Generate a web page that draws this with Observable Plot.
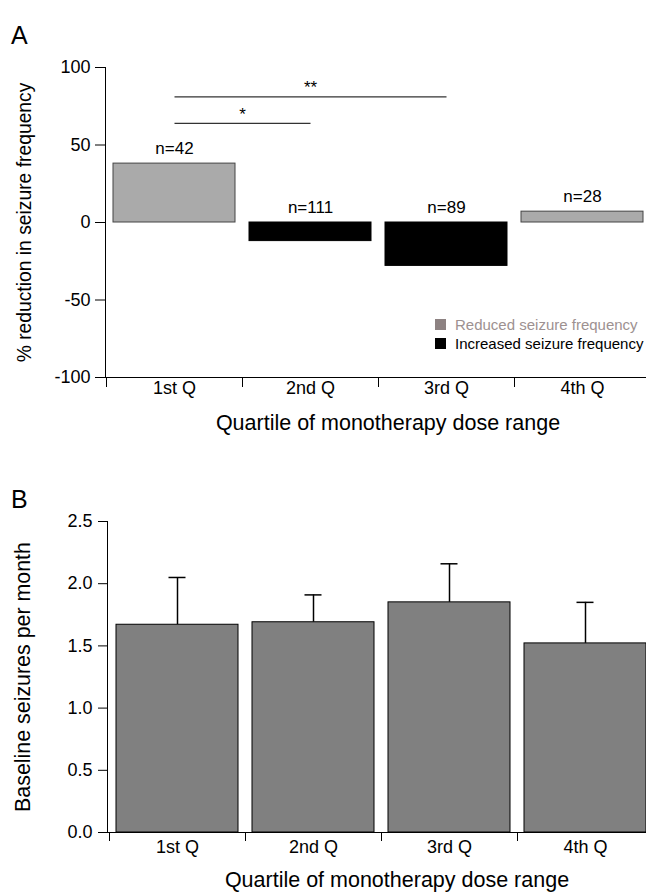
<!DOCTYPE html>
<html>
<head>
<meta charset="utf-8">
<script src="https://cdn.jsdelivr.net/npm/d3@7"></script>
<script src="https://cdn.jsdelivr.net/npm/@observablehq/plot@0.6"></script>
<style>
  html, body { margin: 0; padding: 0; background: #fff; }
  #wrap { position: relative; width: 646px; height: 892px; font-family: 'Liberation Sans', Arial, Helvetica, sans-serif; color: #000; }
  .panel { position: absolute; font-size: 25px; line-height: 25px; }
  #legend { position: absolute; left: 435px; top: 315px; font-size: 15px; line-height: 19px; }
  #legend .row { display: flex; align-items: center; white-space: nowrap; }
  #legend .sw { width: 11px; height: 11px; margin-right: 9px; }
  svg { display: block; }
</style>
</head>
<body>
<div id="wrap">
  <div id="plotA"></div>
  <div id="plotB"></div>
  <div class="panel" style="left:11px; top:23px;">A</div>
  <div class="panel" style="left:11px; top:487px;">B</div>
  <div id="legend"></div>
</div>
<script>
// ---------- data ----------
const categories = ["1st Q", "2nd Q", "3rd Q", "4th Q"];
const reductionPct = [38, -12, -28, 7];
const sampleSizes = [42, 111, 89, 28];
const sigFrom = ["1st Q", "1st Q"];
const sigTo = ["2nd Q", "3rd Q"];
const sigLevel = [64, 81];
const sigLabel = ["*", "**"];
const baselineMean = [1.67, 1.69, 1.85, 1.52];
const baselineErr = [0.38, 0.22, 0.31, 0.33];
const yTicksA = [-100, -50, 0, 50, 100];
const yTicksB = [0, 0.5, 1.0, 1.5, 2.0, 2.5];
const legendLabels = ["Reduced seizure frequency", "Increased seizure frequency"];
const xTitle = "Quartile of monotherapy dose range";
const yTitleA = "% reduction in seizure frequency";
const yTitleB = "Baseline seizures per month";

// ---------- derived tables ----------
const idx = c => categories.indexOf(c);
const edges = categories.map((_, i) => i);
const centers = categories.map((_, i) => i + 0.5);
const tableA = categories.map((c, i) => ({i, c, v: reductionPct[i], n: sampleSizes[i]}));
const sig = sigFrom.map((f, k) => ({x1: idx(f) + 0.5, x2: idx(sigTo[k]) + 0.5, y: sigLevel[k], label: sigLabel[k]}));
const tableB = categories.map((c, i) => ({i, c, m: baselineMean[i], e: baselineErr[i]}));

const colReduced = "#aaaaaa";
const colIncreased = "#000000";
const font = "'Liberation Sans', Arial, Helvetica, sans-serif";
const catLabel = v => categories[Math.floor(v)];
const capHalf = 0.0625;

// ---------- Panel A ----------
const plotA = Plot.plot({
  width: 646,
  height: 450,
  marginLeft: 105,
  marginRight: 0,
  marginTop: 67,
  marginBottom: 73,
  style: {fontFamily: font, fontSize: "18px", background: "white", color: "#000", overflow: "visible"},
  x: {domain: [0, 4], range: [106, 650]},
  y: {domain: [-100, 100]},
  marks: [
    Plot.rect(tableA, {x1: d => d.i, x2: d => d.i + 1, y1: 0, y2: d => d.v, insetLeft: 7, insetRight: 7,
      fill: d => d.v >= 0 ? colReduced : colIncreased, stroke: d => d.v >= 0 ? "#444" : "#000", strokeWidth: 1}),
    Plot.text(tableA, {x: d => d.i + 0.5, y: d => Math.max(d.v, 0), text: d => "n=" + d.n, dy: -15, fontSize: 17, lineAnchor: "middle"}),
    Plot.link(sig, {x1: "x1", x2: "x2", y1: "y", y2: "y", stroke: "#333", strokeWidth: 1.3}),
    Plot.text(sig, {x: d => (d.x1 + d.x2) / 2, y: "y", text: "label", dy: -9, fontSize: 17, lineAnchor: "middle"}),
    Plot.frame({anchor: "left", stroke: "#000"}),
    Plot.frame({anchor: "bottom", stroke: "#000"}),
    Plot.axisY({ticks: yTicksA, tickSize: 10, tickPadding: 5, tickFormat: d => String(d), fontSize: 18, label: null}),
    Plot.axisX({ticks: edges, tickSize: 10, fill: "none", label: null}),
    Plot.axisX({ticks: centers, tickSize: 0, tickPadding: 4, tickFormat: catLabel, fontSize: 18, label: null}),
    Plot.text([xTitle], {frameAnchor: "bottom", text: d => d, textAnchor: "middle", dy: 46, dx: 12, fontSize: 21.5, lineAnchor: "middle"}),
    Plot.text([yTitleA], {frameAnchor: "left", text: d => d, textAnchor: "middle", rotate: -90, dx: -81, fontSize: 19.3, lineAnchor: "middle"})
  ]
});
document.getElementById("plotA").append(plotA);

// ---------- Panel B ----------
const plotB = Plot.plot({
  width: 646,
  height: 442,
  marginLeft: 107,
  marginRight: 0,
  marginTop: 71,
  marginBottom: 60,
  style: {fontFamily: font, fontSize: "18px", background: "white", color: "#000", overflow: "visible"},
  x: {domain: [0, 4], range: [109, 653]},
  y: {domain: [0, 2.5]},
  marks: [
    Plot.ruleX(tableB, {x: d => d.i + 0.5, y1: "m", y2: d => d.m + d.e, stroke: "#000", strokeWidth: 1.5}),
    Plot.ruleY(tableB, {y: d => d.m + d.e, x1: d => d.i + 0.5 - capHalf, x2: d => d.i + 0.5 + capHalf, stroke: "#000", strokeWidth: 1.5}),
    Plot.rect(tableB, {x1: d => d.i, x2: d => d.i + 1, y1: 0, y2: "m", insetLeft: 7, insetRight: 7, fill: "#808080", stroke: "#000", strokeWidth: 1}),
    Plot.frame({anchor: "left", stroke: "#000"}),
    Plot.frame({anchor: "bottom", stroke: "#000"}),
    Plot.axisY({ticks: yTicksB, tickSize: 9, tickPadding: 6, tickFormat: d3.format(".1f"), fontSize: 18, label: null}),
    Plot.axisX({ticks: edges, tickSize: 9, fill: "none", label: null}),
    Plot.axisX({ticks: centers, tickSize: 0, tickPadding: 8, tickFormat: catLabel, fontSize: 18, label: null}),
    Plot.text([xTitle], {frameAnchor: "bottom", text: d => d, textAnchor: "middle", dy: 48, dx: 20, fontSize: 21.5, lineAnchor: "middle"}),
    Plot.text([yTitleB], {frameAnchor: "left", text: d => d, textAnchor: "middle", rotate: -90, dx: -84.5, fontSize: 21.4, lineAnchor: "middle"})
  ]
});
document.getElementById("plotB").append(plotB);

// ---------- legend ----------
const legendSwatches = ["#8d8282", "#000000"];
const legendText = ["#9d9191", "#000000"];
const lg = d3.select("#legend");
legendLabels.forEach((l, k) => {
  const row = lg.append("div").attr("class", "row");
  row.append("div").attr("class", "sw").style("background", legendSwatches[k]);
  row.append("span").style("color", legendText[k]).text(l);
});
</script>
</body>
</html>
